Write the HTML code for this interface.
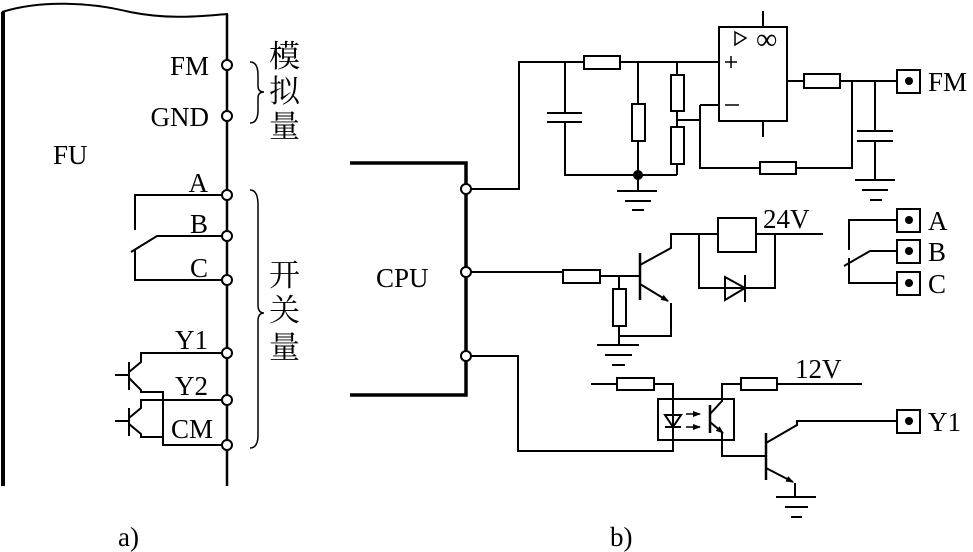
<!DOCTYPE html>
<html><head><meta charset="utf-8"><style>
body{margin:0;background:#fff;}
svg{display:block;}
text{font-family:"Liberation Serif","Noto Serif CJK SC",serif;fill:#000;}
.c{font-family:"Noto Serif CJK SC","Noto Sans CJK SC",serif;}
</style></head><body>
<svg width="973" height="552" viewBox="0 0 973 552" xmlns="http://www.w3.org/2000/svg">
<defs><marker id="ar" markerWidth="8" markerHeight="8" refX="7" refY="4" orient="auto" markerUnits="userSpaceOnUse"><path d="M0,1 L8,4 L0,7 Z" fill="#000"/></marker></defs>
<g stroke="#000" stroke-width="2" fill="none">
<path d="M3,12 L3,486" stroke-width="4"/>
<path d="M2,12 C40,0 90,2 130,12 C170,20 200,16 228,14"/>
<path d="M227,14 L227,486" stroke-width="2.5"/>
<g fill="#fff">
<circle cx="227" cy="65" r="5"/><circle cx="227" cy="116" r="5"/>
<circle cx="227" cy="195" r="5"/><circle cx="227" cy="236" r="5"/><circle cx="227" cy="280" r="5"/>
<circle cx="227" cy="353" r="5"/><circle cx="227" cy="400" r="5"/><circle cx="227" cy="445" r="5"/>
</g>
<path d="M222,195 L135,195 L135,230"/>
<path d="M222,236 L157,236 L131,252"/>
<path d="M135,250 L135,280 L222,280"/>
<path d="M222,353 L141,353 L141,362 L129,372"/>
<path d="M129,362 L129,390 M115,375 L129,375"/>
<path d="M129,378 L141,390 L141,392 L163,392 L163,445 L222,445"/>
<path d="M222,400 L141,400 L141,408 L129,418"/>
<path d="M129,408 L129,436 M115,421 L129,421"/>
<path d="M129,424 L141,434 L141,437 L163,437"/>
<path d="M250,62 Q258,62 258,75 L258,86 Q258,92 264,92 Q258,92 258,98 L258,110 Q258,123 250,123" stroke-width="1.5"/>
<path d="M250,190 Q258,190 258,205 L258,305 Q258,313 264,313 Q258,313 258,321 L258,435 Q258,448 250,448" stroke-width="1.5"/>
<path d="M350,163 L466,163 L466,395 L350,395" stroke-width="3.5"/>
<g fill="#fff"><circle cx="466" cy="189" r="5"/><circle cx="466" cy="272" r="5"/><circle cx="466" cy="356" r="5"/></g>
<path d="M471,189 L519,189 L519,62 L584,62 M620,62 L719,62"/>
<rect x="584" y="56" width="36" height="13"/>
<path d="M565,62 L565,113 M547,113 L582,113 M547,122 L582,122 M565,122 L565,175 L677,175"/>
<path d="M638,62 L638,104 M638,141 L638,191"/>
<rect x="632" y="104" width="13" height="37"/>
<path d="M677,62 L677,75 M677,111 L677,127 M677,164 L677,175"/>
<rect x="671" y="75" width="13" height="36"/><rect x="671" y="127" width="13" height="37"/>
<path d="M677,120 L700,120 M700,105 L719,105 M700,105 L700,168 L760,168 M796,168 L852,168 L852,81"/>
<rect x="760" y="162" width="36" height="12"/>
<circle cx="638" cy="175" r="4" fill="#000"/>
<path d="M617,191 L657,191 M625,201 L651,201 M632,210 L644,210"/>
<rect x="719" y="27" width="68" height="94"/>
<path d="M763,11 L763,27 M763,121 L763,137"/>
<path d="M735,32 L746,38 L735,45 Z" stroke-width="1.5"/>
<path d="M725,62 L737,62 M731,56 L731,68 M725,105 L739,105" stroke-width="1.5"/>
<path d="M787,81 L804,81 M840,81 L897,81"/>
<rect x="804" y="74" width="36" height="14"/>
<path d="M875,81 L875,131 M857,131 L893,131 M857,141 L893,141 M875,141 L875,180 M855,180 L895,180 M862,190 L888,190 M870,200 L882,200"/>
<rect x="897" y="70" width="23" height="23"/>
<path d="M471,272 L563,272 M600,276 L640,276"/>
<rect x="563" y="270" width="37" height="13"/>
<path d="M619,276 L619,289 M619,326 L619,345"/>
<rect x="613" y="289" width="13" height="37"/>
<path d="M597,345 L639,345 M605,355 L632,355 M612,365 L625,365"/>
<path d="M619,336 L671,336 L671,303"/>
<path d="M640,253 L640,300" stroke-width="2.5"/>
<path d="M640,265 L671,248 L671,234 L718,234 M756,234 L823,234"/>
<path d="M640,284 L668,301" marker-end="url(#ar)"/>
<rect x="718" y="218" width="38" height="34"/>
<path d="M699,234 L699,288 L775,288 L775,234"/>
<path d="M725,277 L745,288 L725,300 Z"/>
<path d="M745,275 L745,302"/>
<rect x="897" y="209" width="23" height="23"/><rect x="897" y="240" width="23" height="23"/><rect x="897" y="272" width="23" height="23"/>
<path d="M897,220 L849,220 L849,250 M897,251 L870,251 L844,266 M849,258 L849,283 L897,283"/>
<path d="M471,356 L518,356 L518,451 L673,451 L673,384 L654,384 M617,384 L591,384"/>
<rect x="617" y="378" width="37" height="12"/>
<rect x="658" y="399" width="76" height="41"/>
<path d="M665,415 L681,415 L673,427 Z M665,427 L681,427"/>
<path d="M686,414 L700,414" marker-end="url(#ar)" stroke-width="1.5"/>
<path d="M686,427 L700,427" marker-end="url(#ar)" stroke-width="1.5"/>
<path d="M710,405 L710,433" stroke-width="2.5"/>
<path d="M710,414 L722,401 L722,384 L741,384 M777,384 L862,384"/>
<rect x="741" y="378" width="36" height="12"/>
<path d="M710,422 L723,433" marker-end="url(#ar)"/>
<path d="M722,432 L722,456 L766,456"/>
<path d="M766,433 L766,480" stroke-width="2.5"/>
<path d="M766,443 L797,425 L797,421 L897,421"/>
<path d="M766,468 L793,482" marker-end="url(#ar)"/>
<path d="M795,483 L795,497 M776,497 L816,497 M785,507 L808,507 M791,517 L802,517"/>
<rect x="897" y="410" width="23" height="23"/>
</g>
<g fill="#000"><circle cx="909" cy="81" r="4"/><circle cx="909" cy="220" r="4"/><circle cx="909" cy="251" r="4"/><circle cx="909" cy="283" r="4"/><circle cx="909" cy="421" r="4"/></g>
<g font-size="27">
<text x="209" y="75" text-anchor="end">FM</text>
<text x="209" y="126" text-anchor="end">GND</text>
<text x="53" y="164">FU</text>
<text x="208" y="192" text-anchor="end">A</text>
<text x="208" y="233" text-anchor="end">B</text>
<text x="208" y="277" text-anchor="end">C</text>
<text x="208" y="349" text-anchor="end">Y1</text>
<text x="208" y="395" text-anchor="end">Y2</text>
<text x="213" y="438" text-anchor="end">CM</text>
<text x="376" y="287">CPU</text>
<text x="928" y="91">FM</text>
<text x="928" y="230">A</text>
<text x="928" y="261">B</text>
<text x="928" y="293">C</text>
<text x="928" y="431">Y1</text>
<text x="763" y="228">24V</text>
<text x="795" y="378">12V</text>
<text x="118" y="546">a)</text>
<text x="610" y="546">b)</text>
<text x="756" y="49" font-size="30">∞</text>
</g>
<g class="c" font-size="31">
<text x="269" y="67">模</text><text x="269" y="102">拟</text><text x="269" y="137">量</text>
<text x="269" y="286">开</text><text x="269" y="321">关</text><text x="269" y="358">量</text>
</g>
</svg>
</body></html>
